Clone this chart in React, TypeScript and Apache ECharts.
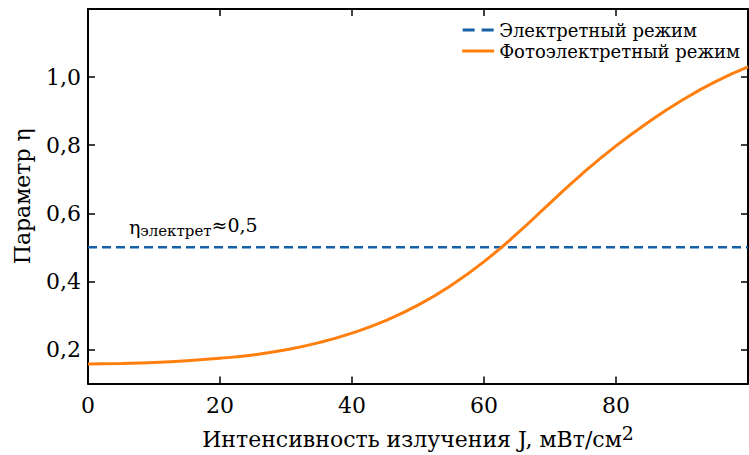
import React, { useEffect, useRef } from "react";
import * as echarts from "echarts";

const FONT = "DejaVu Serif";

const intensityJ = [0, 5, 10, 15, 20, 25, 30, 35, 40, 45, 50, 55, 60, 65, 70, 75, 80, 85, 90, 95, 100];
const photoEta = [0.157, 0.159, 0.162, 0.167, 0.174, 0.184, 0.199, 0.22, 0.248, 0.284, 0.33, 0.388, 0.458, 0.54, 0.63, 0.718, 0.798, 0.869, 0.932, 0.986, 1.03];
const electretJ = [0, 100];
const electretEta = [0.5, 0.5];
const yTicks = [0.2, 0.4, 0.6, 0.8, 1.0];
const xTicks = [0, 20, 40, 60, 80];
const seriesNames = ["Электретный режим", "Фотоэлектретный режим"];

export default function App() {
  const ref = useRef<HTMLDivElement>(null);
  useEffect(() => {
    if (!ref.current) return;
    const chart = echarts.init(ref.current, null, { renderer: "svg" });
    const fmtY = (v: number) => v.toFixed(1).replace(".", ",");
    const tickCommon = { show: true, inside: true, length: 7, lineStyle: { color: "#000", width: 1.5 } };
    chart.setOption({
      animation: false,
      backgroundColor: "#fff",
      textStyle: { fontFamily: FONT },
      grid: { left: 88, right: 1, top: 9, bottom: 66, containLabel: false },
      legend: {
        orient: "vertical",
        right: 4,
        top: 16,
        itemGap: 3,
        itemWidth: 32,
        itemHeight: 3,
        textStyle: { fontFamily: FONT, fontSize: 18, color: "#000", lineHeight: 18 },
        data: [
          { name: seriesNames[0], icon: "path://M0,0h12v3H0z M19,0h12v3H19z" },
          { name: seriesNames[1], icon: "path://M0,0h32v3H0z" },
        ],
      },
      xAxis: [
        {
          type: "value",
          min: 0,
          max: 100,
          position: "bottom",
          splitLine: { show: false },
          axisLine: { show: true, onZero: false, lineStyle: { color: "#000", width: 2 } },
          axisTick: { ...tickCommon, customValues: xTicks },
          axisLabel: {
            customValues: xTicks,
            fontFamily: FONT,
            fontSize: 22,
            color: "#000",
            margin: 11,
            formatter: (v: number) => String(v),
          },
          name: "Интенсивность излучения J, мВт/см{sup|2}",
          nameLocation: "middle",
          nameGap: 40,
          nameTextStyle: {
            fontFamily: FONT,
            fontSize: 22,
            color: "#000",
            rich: { sup: { fontFamily: FONT, fontSize: 19, color: "#000", padding: [0, 0, 12, 0] } },
          },
        },
        {
          type: "value",
          min: 0,
          max: 100,
          position: "top",
          splitLine: { show: false },
          axisLine: { show: true, onZero: false, lineStyle: { color: "#000", width: 2 } },
          axisTick: { ...tickCommon, customValues: xTicks },
          axisLabel: { show: false },
        },
      ],
      yAxis: [
        {
          type: "value",
          min: 0.1,
          max: 1.2,
          position: "left",
          splitLine: { show: false },
          axisLine: { show: true, onZero: false, lineStyle: { color: "#000", width: 2 } },
          axisTick: { ...tickCommon, customValues: yTicks },
          axisLabel: {
            customValues: yTicks,
            fontFamily: FONT,
            fontSize: 22,
            color: "#000",
            margin: 7,
            formatter: fmtY,
          },
          name: "Параметр η",
          nameLocation: "middle",
          nameGap: 55,
          nameRotate: 90,
          nameTextStyle: { fontFamily: FONT, fontSize: 22, color: "#000" },
        },
        {
          type: "value",
          min: 0.1,
          max: 1.2,
          position: "right",
          splitLine: { show: false },
          axisLine: { show: true, onZero: false, lineStyle: { color: "#000", width: 2 } },
          axisTick: { ...tickCommon, customValues: yTicks },
          axisLabel: { show: false },
        },
      ],
      series: [
        {
          name: seriesNames[0],
          type: "line",
          symbol: "none",
          data: electretJ.map((x, i) => [x, electretEta[i]]),
          lineStyle: { color: "#1560a8", width: 2.5, type: [9, 5] },
          itemStyle: { color: "#1560a8" },
          markPoint: {
            symbol: "circle",
            symbolSize: 0,
            data: [{ coord: [6.2, 0.56] }],
            label: {
              show: true,
              position: "right",
              distance: 0,
              formatter: "{a|η}{b|электрет}{c|≈0,5}",
              rich: {
                a: { fontFamily: FONT, fontSize: 19, color: "#000" },
                b: { fontFamily: FONT, fontSize: 15, color: "#000", padding: [8, 0, 0, 0] },
                c: { fontFamily: FONT, fontSize: 19, color: "#000", padding: [0, 0, 4, 0] },
              },
            },
          },
        },
        {
          name: seriesNames[1],
          type: "line",
          symbol: "none",
          smooth: 0.5,
          data: intensityJ.map((x, i) => [x, photoEta[i]]),
          lineStyle: { color: "#ff7f0e", width: 3 },
          itemStyle: { color: "#ff7f0e" },
        },
      ],
    });
    return () => chart.dispose();
  }, []);
  return <div ref={ref} style={{ width: 749, height: 455, position: "absolute", left: 0, top: 0 }} />;
}
